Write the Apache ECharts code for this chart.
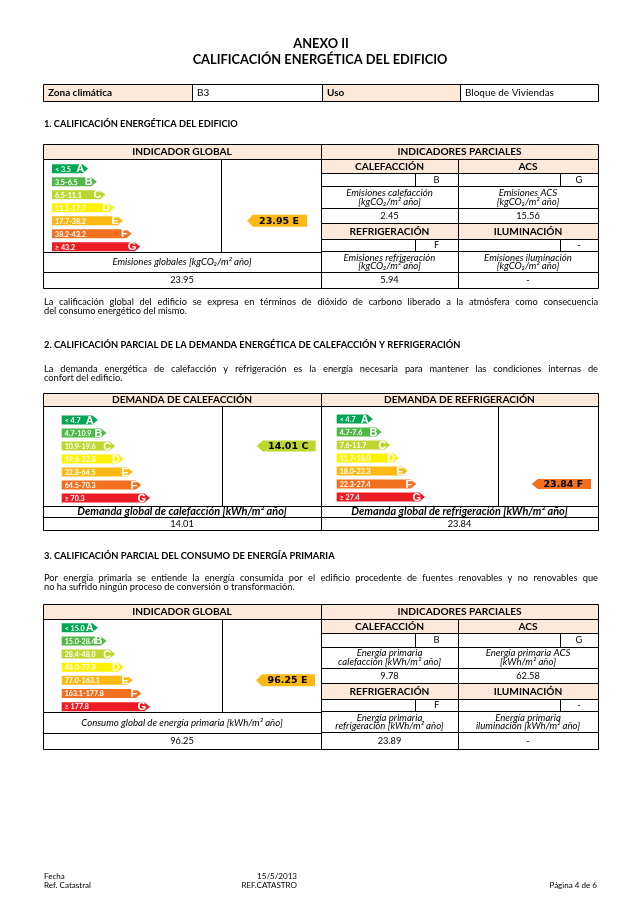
<!DOCTYPE html>
<html><head><meta charset="utf-8">
<script src="https://cdn.jsdelivr.net/npm/echarts@6/dist/echarts.min.js"></script>
<style>html,body{margin:0;padding:0;background:#fff}#c{width:643px;height:909px}</style>
</head><body><div id="c"></div>
<script>
// ---------- DATA ----------
const classes = ['A','B','C','D','E','F','G'];
const classColors = ['#00a651','#50b848','#bed630','#fff200','#fdb913','#f37021','#ed1c24'];
const classSteps = [1,2,3,4,5,6,7];
const emisionesRanges = ['< 3.5','3.5-6.5','6.5-11.1','11.1-17.7','17.7-38.2','38.2-43.2','\u2265 43.2'];
const calefRanges = ['< 4.7','4.7-10.9','10.9-19.6','19.6-32.8','32.8-64.5','64.5-70.3','\u2265 70.3'];
const refrigRanges = ['< 4.7','4.7-7.6','7.6-11.7','11.7-18.0','18.0-22.3','22.3-27.4','\u2265 27.4'];
const primariaRanges = ['< 15.0','15.0-28.4','28.4-48.0','48.0-77.0','77.0-163.1','163.1-177.8','\u2265 177.8'];
const emisionesValue = 23.95, emisionesClass = 'E';
const calefValue = 14.01, calefClass = 'C';
const refrigValue = 23.84, refrigClass = 'F';
const primariaValue = 96.25, primariaClass = 'E';
const parcialNames = ['CALEFACCI\u00d3N','ACS','REFRIGERACI\u00d3N','ILUMINACI\u00d3N'];
const emisionesParcialClass = ['B','G','F','-'];
const emisionesParcialValues = ['2.45','15.56','5.94','-'];
const primariaParcialClass = ['B','G','F','-'];
const primariaParcialValues = ['9.78','62.58','23.89','-'];
const zonaClimatica = 'B3', uso = 'Bloque de Viviendas';

// ---------- HELPERS ----------
const FAM = 'Lato';
const PEACH = '#fde9d9';
const G = [];
const mctx = document.createElement('canvas').getContext('2d');
function fit(text, st, target, fam){ mctx.font = `${st||''} 20px ${fam||FAM}`; return 20*target/mctx.measureText(text).width; }
function T(text, x, y, o){
  o = o||{};
  const size = o.size || fit(text, o.st, o.w, o.fam);
  G.push({type:'text', x:x, y:y, z:10, style:{text:text, x:0, y:0, font:`${o.st||''} ${size}px ${o.fam||FAM}`, fill:o.fill||'#000',
    align:o.align||'center', textAlign:o.align||'center', verticalAlign:'middle', textVerticalAlign:'middle'}});
}
function justify(text, x, y, width, size, st){
  const words = text.split(' ');
  mctx.font = `${st||''} ${size}px ${FAM}`;
  const ws = words.map(w=>mctx.measureText(w).width);
  const gap = (width - ws.reduce((a,b)=>a+b,0))/(words.length-1);
  let cx = x;
  words.forEach((w,i)=>{ T(w, cx, y, {size:size, st:st, align:'left'}); cx += ws[i]+gap; });
}
function cell(x1,y1,x2,y2,fill){
  const a=Math.round(x1), b=Math.round(y1), c=Math.round(x2), d=Math.round(y2);
  G.push({type:'rect', z:0, shape:{x:a+0.5,y:b+0.5,width:c-a,height:d-b}, style:{fill:fill||'#fff', stroke:'#000', lineWidth:1}});
}

// ---------- TEXT SIZES ----------
const bodySize = fit('del consumo energ\u00e9tico del mismo.', '', 143);
const hdrSize = fit('REFRIGERACI\u00d3N', 'bold', 80);
const itSize = fit('Emisiones refrigeraci\u00f3n', 'italic', 92);
const valSize = bodySize;

// ---------- PAGE HEADER ----------
const titleSize = fit('CALIFICACI\u00d3N ENERG\u00c9TICA DEL EDIFICIO', 'bold', 255);
T('ANEXO II', 321, 44, {st:'bold', size:titleSize});
T('CALIFICACI\u00d3N ENERG\u00c9TICA DEL EDIFICIO', 320, 60, {st:'bold', size:titleSize});

// Zona table
cell(43,84,192,101,PEACH); cell(192,84,322,101); cell(322,84,460,101,PEACH); cell(460,84,598,101);
const zSize = fit(uso, '', 89);
T('Zona clim\u00e1tica', 48, 92.5, {st:'bold', size:zSize, align:'left'});
T(zonaClimatica, 197, 92.5, {size:zSize, align:'left'});
T('Uso', 327, 92.5, {st:'bold', size:zSize, align:'left'});
T(uso, 465, 92.5, {size:zSize, align:'left'});

// ---------- SECTION 1 ----------
T('1. CALIFICACI\u00d3N ENERG\u00c9TICA DEL EDIFICIO', 44, 124, {st:'bold', w:194, align:'left'});
cell(43,144,321,158.5,PEACH); cell(321,144,598,158.5,PEACH);
cell(43,158.5,221,252); cell(221,158.5,321,252);
cell(43,252,321,272); cell(43,272,321,288);
T('INDICADOR GLOBAL', 182, 151.5, {st:'bold', size:hdrSize});
T('INDICADORES PARCIALES', 459.5, 151.5, {st:'bold', size:hdrSize});
T('Emisiones globales [kgCO\u2082/m\u00b2 a\u00f1o]', 182, 262, {st:'italic', size:itSize});
T(emisionesValue.toFixed(2), 182, 280.5, {size:valSize});

function parcialTable(y, names, cls, vals, labels){
  // y = row boundaries [hdr1, l1, t1, v1, hdr2, l2, t2, v2, end]
  cell(321,y[0],458,y[1],PEACH); cell(458,y[0],598,y[1],PEACH);
  cell(321,y[1],415,y[2]); cell(415,y[1],458,y[2]); cell(458,y[1],560,y[2]); cell(560,y[1],598,y[2]);
  cell(321,y[2],458,y[3]); cell(458,y[2],598,y[3]);
  cell(321,y[3],458,y[4]); cell(458,y[3],598,y[4]);
  cell(321,y[4],458,y[5],PEACH); cell(458,y[4],598,y[5],PEACH);
  cell(321,y[5],415,y[6]); cell(415,y[5],458,y[6]); cell(458,y[5],560,y[6]); cell(560,y[5],598,y[6]);
  cell(321,y[6],458,y[7]); cell(458,y[6],598,y[7]);
  cell(321,y[7],458,y[8]); cell(458,y[7],598,y[8]);
  const cx = [389.5, 528], lx = [436.5, 579];
  for (let k=0;k<2;k++){
    for (let j=0;j<2;j++){
      const i = k*2+j, o = k*4;
      T(names[i], cx[j], (y[o]+y[o+1])/2+0.5, {st:'bold', size:hdrSize});
      T(cls[i], lx[j], (y[o+1]+y[o+2])/2+0.5, {size:valSize});
      const mid = (y[o+2]+y[o+3])/2;
      T(labels[i][0], cx[j], mid-4, {st:'italic', size:itSize});
      T(labels[i][1], cx[j], mid+4.5, {st:'italic', size:itSize});
      T(vals[i], cx[j], (y[o+3]+y[o+4])/2+0.5, {size:valSize});
    }
  }
}
parcialTable([158.5,173,186,208,223,238.5,251,272,288],
  parcialNames, emisionesParcialClass, emisionesParcialValues,
  [['Emisiones calefacci\u00f3n','[kgCO\u2082/m\u00b2 a\u00f1o]'],['Emisiones ACS','[kgCO\u2082/m\u00b2 a\u00f1o]'],
   ['Emisiones refrigeraci\u00f3n','[kgCO\u2082/m\u00b2 a\u00f1o]'],['Emisiones iluminaci\u00f3n','[kgCO\u2082/m\u00b2 a\u00f1o]']]);

justify('La calificaci\u00f3n global del edificio se expresa en t\u00e9rminos de di\u00f3xido de carbono liberado a la atm\u00f3sfera como consecuencia', 44, 302, 554, bodySize);
T('del consumo energ\u00e9tico del mismo.', 44, 311.5, {size:bodySize, align:'left'});

// ---------- SECTION 2 ----------
T('2. CALIFICACI\u00d3N PARCIAL DE LA DEMANDA ENERG\u00c9TICA DE CALEFACCI\u00d3N Y REFRIGERACI\u00d3N', 44, 345, {st:'bold', w:417, align:'left'});
justify('La demanda energ\u00e9tica de calefacci\u00f3n y refrigeraci\u00f3n es la energ\u00eda necesaria para mantener las condiciones internas de', 44, 369, 554, bodySize);
T('confort del edificio.', 44, 378, {size:bodySize, align:'left'});
cell(43,393,321,406,PEACH); cell(321,393,598,406,PEACH);
cell(43,406,222,505.5); cell(222,406,321,505.5); cell(321,406,498,505.5); cell(498,406,598,505.5);
cell(43,505.5,321,517); cell(321,505.5,598,517); cell(43,517,321,530); cell(321,517,598,530);
T('DEMANDA DE CALEFACCI\u00d3N', 182, 399.5, {st:'bold', size:hdrSize});
T('DEMANDA DE REFRIGERACI\u00d3N', 459.5, 399.5, {st:'bold', size:hdrSize});
const biSize = fit('Demanda global de refrigeraci\u00f3n [kWh/m\u00b2 a\u00f1o]', 'italic bold', 216.7);
T('Demanda global de calefacci\u00f3n [kWh/m\u00b2 a\u00f1o]', 182, 511.5, {st:'italic bold', size:biSize});
T('Demanda global de refrigeraci\u00f3n [kWh/m\u00b2 a\u00f1o]', 459.5, 511.5, {st:'italic bold', size:biSize});
T(calefValue.toFixed(2), 182, 524, {size:valSize});
T(refrigValue.toFixed(2), 459.5, 524, {size:valSize});

// ---------- SECTION 3 ----------
T('3. CALIFICACI\u00d3N PARCIAL DEL CONSUMO DE ENERG\u00cdA PRIMARIA', 44, 556, {st:'bold', w:291, align:'left'});
justify('Por energ\u00eda primaria se entiende la energ\u00eda consumida por el edificio procedente de fuentes renovables y no renovables que', 44, 578, 554, bodySize);
T('no ha sufrido ning\u00fan proceso de conversi\u00f3n o transformaci\u00f3n.', 44, 587.5, {size:bodySize, align:'left'});
cell(43,604,321,618.5,PEACH); cell(321,604,598,618.5,PEACH);
cell(43,618.5,222,712); cell(222,618.5,321,712);
cell(43,712,321,733); cell(43,733,321,749);
T('INDICADOR GLOBAL', 182, 611.5, {st:'bold', size:hdrSize});
T('INDICADORES PARCIALES', 459.5, 611.5, {st:'bold', size:hdrSize});
T('Consumo global de energ\u00eda primaria [kWh/m\u00b2 a\u00f1o]', 182, 722.5, {st:'italic', size:itSize});
T(primariaValue.toFixed(2), 182, 741, {size:valSize});
parcialTable([618.5,633,646.5,668,683,698.5,711,732,748.5],
  parcialNames, primariaParcialClass, primariaParcialValues,
  [['Energ\u00eda primaria','calefacci\u00f3n [kWh/m\u00b2 a\u00f1o]'],['Energ\u00eda primaria ACS','[kWh/m\u00b2 a\u00f1o]'],
   ['Energ\u00eda primaria','refrigeraci\u00f3n [kWh/m\u00b2 a\u00f1o]'],['Energ\u00eda primaria','iluminaci\u00f3n [kWh/m\u00b2 a\u00f1o]']]);

// ---------- FOOTER ----------
const fSize = fit('Ref. Catastral', '', 47);
T('Fecha', 44, 876, {size:fSize, align:'left'});
T('Ref. Catastral', 44, 885, {size:fSize, align:'left'});
T('15/5/2013', 297, 876, {size:fSize, align:'right'});
T('REF.CATASTRO', 297, 885, {size:fSize, align:'right'});
T('P\u00e1gina 4 de 6', 597, 885, {size:fSize, align:'right'});

// ---------- RATING SCALES ----------
const rangeSize = fit('17.7-38.2', 'bold', 31);
const scales = [
  {ranges:emisionesRanges, cls:emisionesClass, val:emisionesValue, barX:52,    top:162.2, h:91, ptrX:247,   ptrW:60,   ph:12},
  {ranges:calefRanges,     cls:calefClass,     val:calefValue,     barX:61.7,  top:413.5, h:91, ptrX:256.7, ptrW:59,   ph:11},
  {ranges:refrigRanges,    cls:refrigClass,    val:refrigValue,    barX:336.7, top:412.5, h:91, ptrX:531.7, ptrW:59.3, ph:10},
  {ranges:primariaRanges,  cls:primariaClass,  val:primariaValue,  barX:61.7,  top:621.2, h:92, ptrX:256,   ptrW:59,   ph:12}
];
const XMIN = -3.15, XMAX = 7.05, UNIT = 8.7;
const grid=[], xAxis=[], yAxis=[], series=[];
scales.forEach((s, k) => {
  const gb = grid.length;
  grid.push({left:s.barX, top:s.top, width:(XMAX-XMIN)*UNIT, height:s.h});
  grid.push({left:s.ptrX, top:s.top, width:s.ptrW, height:s.h});
  xAxis.push({gridIndex:gb, type:'value', min:XMIN, max:XMAX, show:false});
  xAxis.push({gridIndex:gb+1, type:'value', min:0, max:1, show:false});
  yAxis.push({gridIndex:gb, type:'category', data:classes, inverse:true, show:false});
  yAxis.push({gridIndex:gb+1, type:'category', data:classes, inverse:true, show:false});
  series.push({
    type:'custom', xAxisIndex:gb, yAxisIndex:gb, z:5,
    data: classes.map((c,i)=>[classSteps[i], i]),
    renderItem: (params, api) => {
      const i = api.value(1);
      const p = api.coord([api.value(0), i]);
      const x0 = params.coordSys.x, x1 = p[0], y = p[1], h = 9, tip = 5.5;
      return {type:'group', children:[
        {type:'polygon', shape:{points:[[x0,y-h/2],[x1-tip,y-h/2],[x1,y],[x1-tip,y+h/2],[x0,y+h/2]]}, style:{fill:classColors[i]}},
        {type:'text', style:{text:s.ranges[i], x:x0+3, y:y+0.5, align:'left', verticalAlign:'middle', fill:'#fff', font:`bold ${rangeSize}px ${FAM}`}},
        {type:'text', style:{text:classes[i], x:x1-4, y:y+0.5, align:'right', verticalAlign:'middle', fill:'#fff', font:'bold 11px "Liberation Sans"'}}
      ]};
    }
  });
  series.push({
    type:'custom', xAxisIndex:gb+1, yAxisIndex:gb+1, z:5,
    data: [[1, classes.indexOf(s.cls)]],
    renderItem: (params, api) => {
      const i = api.value(1);
      const a = api.coord([0, i]), b = api.coord([api.value(0), i]);
      const y = a[1], h = s.ph, tip = 6;
      return {type:'group', children:[
        {type:'polygon', shape:{points:[[a[0],y],[a[0]+tip,y-h/2],[b[0],y-h/2],[b[0],y+h/2],[a[0]+tip,y+h/2]]}, style:{fill:classColors[i]}},
        {type:'text', style:{text:s.val.toFixed(2)+' '+s.cls, x:(a[0]+tip+b[0])/2-1, y:y+0.5, align:'center', verticalAlign:'middle', fill:'#000', font:'bold 9.5px "DejaVu Sans"'}}
      ]};
    }
  });
});

const chart = echarts.init(document.getElementById('c'), null, {renderer:'canvas'});
chart.setOption({animation:false, backgroundColor:'#fff', grid, xAxis, yAxis, series, graphic:{elements:G}});
</script></body></html>
